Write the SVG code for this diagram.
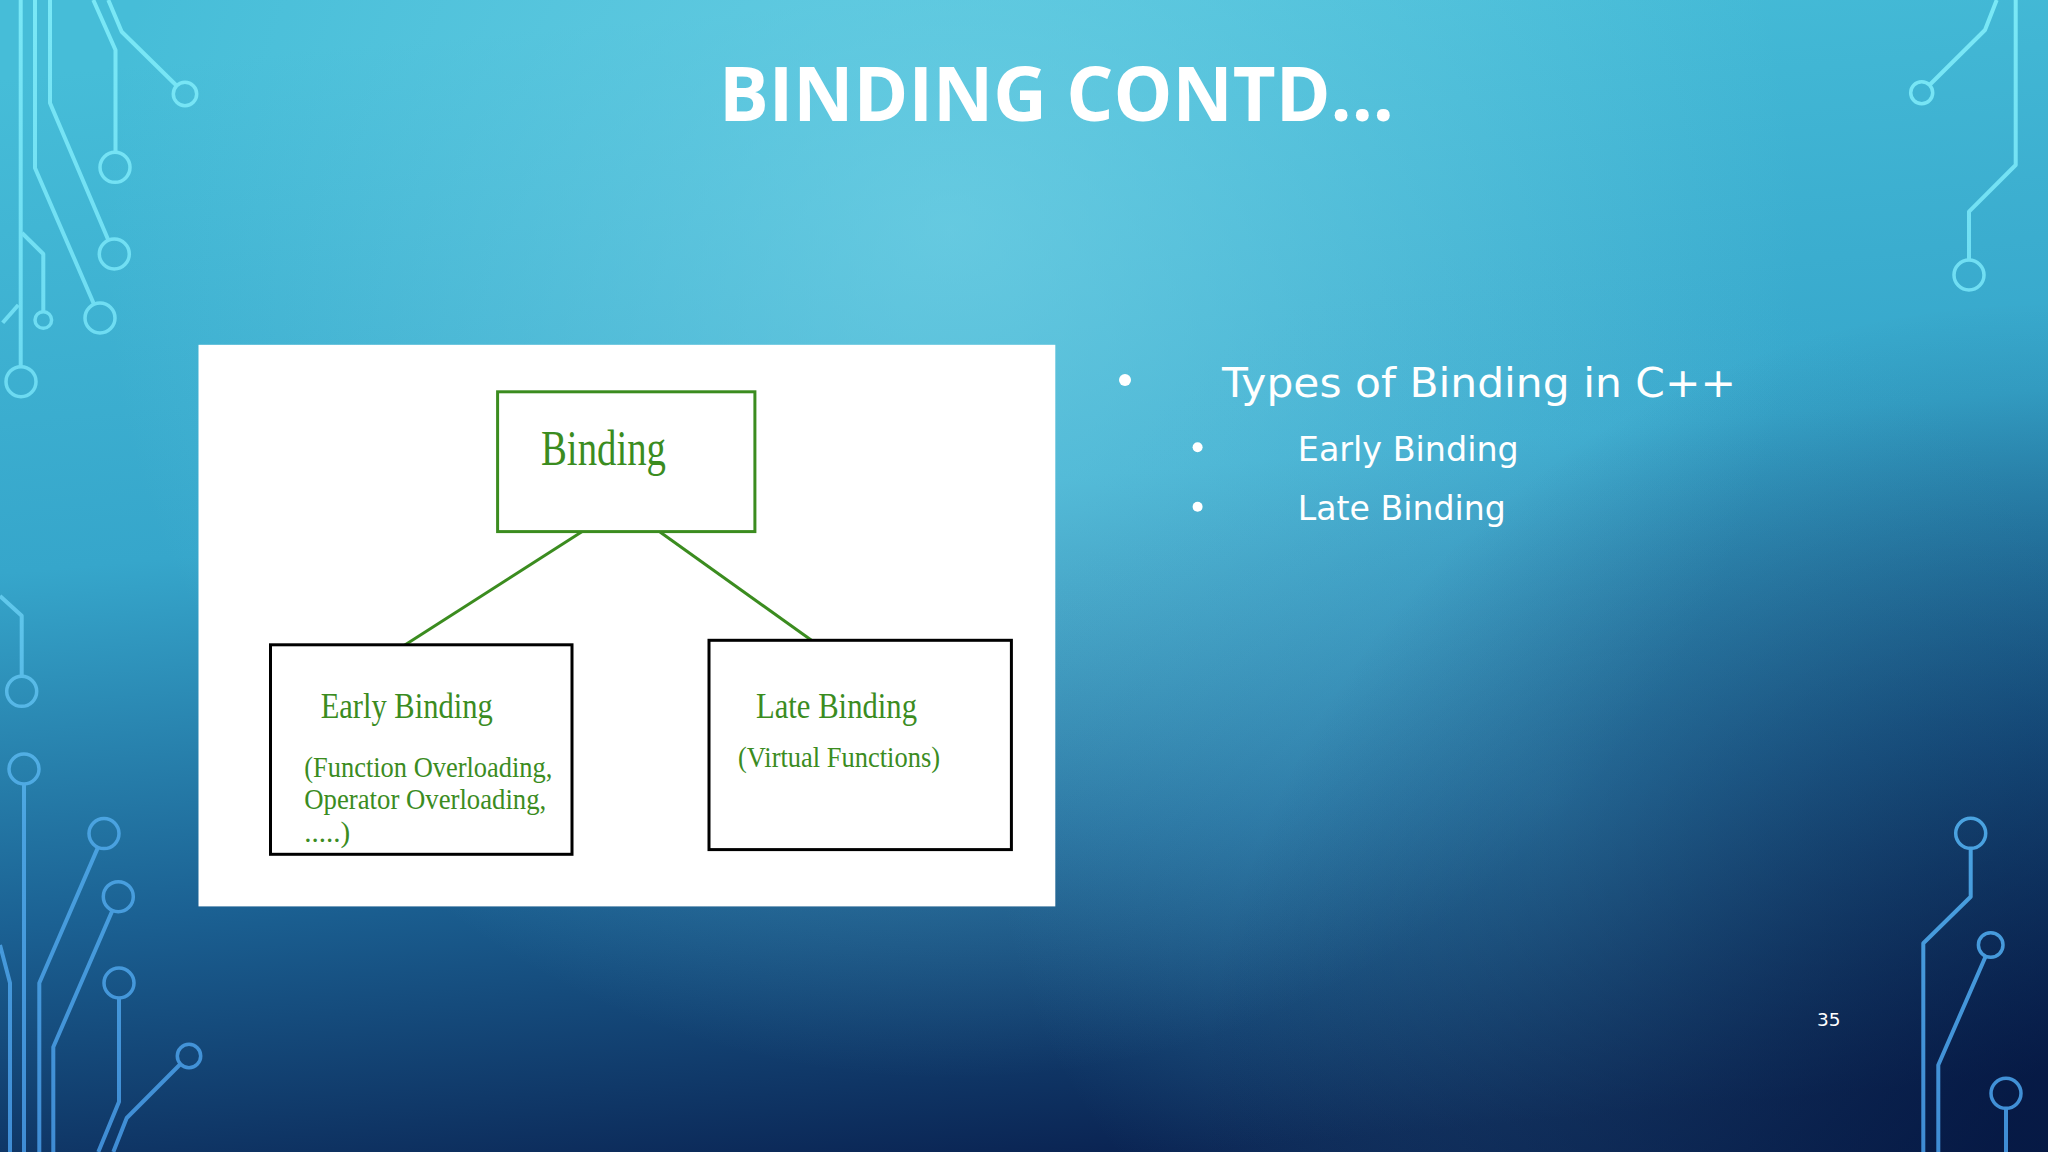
<svg xmlns="http://www.w3.org/2000/svg" width="2048" height="1152" viewBox="0 0 2048 1152">
  <defs>
    <linearGradient id="bg" x1="0.42" y1="0" x2="0.58" y2="1">
      <stop offset="0" stop-color="#46bdd8"/>
      <stop offset="0.42" stop-color="#36a6cb"/>
      <stop offset="0.72" stop-color="#1b6193"/>
      <stop offset="1" stop-color="#0a2352"/>
    </linearGradient>
    <radialGradient id="hl" cx="950" cy="230" r="850" gradientUnits="userSpaceOnUse">
      <stop offset="0" stop-color="#7fd9ea" stop-opacity="0.6"/>
      <stop offset="1" stop-color="#7fd9ea" stop-opacity="0"/>
    </radialGradient>
    <radialGradient id="hl2" cx="1550" cy="800" r="560" gradientUnits="userSpaceOnUse">
      <stop offset="0" stop-color="#4fb0d4" stop-opacity="0.35"/>
      <stop offset="1" stop-color="#4fb0d4" stop-opacity="0"/>
    </radialGradient>
    <radialGradient id="dk" cx="2048" cy="1152" r="850" gradientUnits="userSpaceOnUse">
      <stop offset="0" stop-color="#051640" stop-opacity="0.75"/>
      <stop offset="1" stop-color="#051640" stop-opacity="0"/>
    </radialGradient>
    <linearGradient id="wire" x1="0" y1="0" x2="0" y2="1152" gradientUnits="userSpaceOnUse">
      <stop offset="0" stop-color="#7ae8f6"/>
      <stop offset="0.45" stop-color="#68d6f0"/>
      <stop offset="0.72" stop-color="#4aa2e0"/>
      <stop offset="1" stop-color="#3f8cd4"/>
    </linearGradient>
    <style>
      .w { fill: none; stroke: url(#wire); stroke-width: 4; stroke-linejoin: round; }
      .c { fill: none; stroke: url(#wire); stroke-width: 3.5; }
      .gbox { fill: #ffffff; stroke: #3b8c1f; stroke-width: 3; }
      .kbox { fill: #ffffff; stroke: #000000; stroke-width: 3; }
      .edge { stroke: #3b8c1f; stroke-width: 3; fill: none; }
      .gt { font-family: "Liberation Serif", "DejaVu Serif", serif; fill: #3b8c1f; }
      .wt { font-family: "DejaVu Sans", "Liberation Sans", sans-serif; fill: #ffffff; }
    </style>
  </defs>

  <!-- background -->
  <rect x="0" y="0" width="2048" height="1152" fill="url(#bg)"/>
  <rect x="0" y="0" width="2048" height="1152" fill="url(#hl)"/>
  <rect x="0" y="0" width="2048" height="1152" fill="url(#hl2)"/>
  <rect x="0" y="0" width="2048" height="1152" fill="url(#dk)"/>

  <!-- circuit decoration -->
  <g id="circuits">
    <path class="w" d="M20.7,0 V366.7"/>
    <circle class="c" cx="21" cy="381.7" r="15"/>
    <path class="w" d="M22,233 L43.3,254 V311.7"/>
    <circle class="c" cx="43.3" cy="320" r="8.3"/>
    <path class="w" d="M18.3,305 L2.7,322.7"/>
    <path class="w" d="M35,0 V168 L94,304.2"/>
    <circle class="c" cx="100" cy="318" r="15"/>
    <path class="w" d="M50,0 V103 L108.4,240.2"/>
    <circle class="c" cx="114.3" cy="254" r="15"/>
    <path class="w" d="M93.3,0 L115.5,50 V152.3"/>
    <circle class="c" cx="115" cy="167.3" r="15"/>
    <path class="w" d="M108.3,0 L121.7,31.7 L176.7,85.8"/>
    <circle class="c" cx="185" cy="94" r="11.7"/>

    <path class="w" d="M0,596 L21.7,615.8 V676.3"/>
    <circle class="c" cx="21.7" cy="691.3" r="15"/>
    <circle class="c" cx="24" cy="769" r="15"/>
    <path class="w" d="M24,784 V1152"/>
    <path class="w" d="M0,945 L10,983 V1152"/>
    <circle class="c" cx="104" cy="833.6" r="15"/>
    <path class="w" d="M98,847.4 L39.3,983 V1152"/>
    <circle class="c" cx="118.3" cy="896.7" r="15"/>
    <path class="w" d="M112.4,910.5 L53.3,1047 V1152"/>
    <circle class="c" cx="119" cy="983" r="15"/>
    <path class="w" d="M119,998 V1101.7 L98.3,1152"/>
    <circle class="c" cx="189" cy="1056" r="11.7"/>
    <path class="w" d="M180.5,1064 L126.7,1118 L113.3,1152"/>

    <path class="w" d="M1996.7,0 L1985,30 L1930,84.5"/>
    <circle class="c" cx="1921.7" cy="92.7" r="11"/>
    <path class="w" d="M2015.7,0 V165 L1969,211.7 V260"/>
    <circle class="c" cx="1969" cy="275" r="15"/>

    <circle class="c" cx="1970.7" cy="833.3" r="15"/>
    <path class="w" d="M1970.7,848.3 V896.7 L1923.3,943.3 V1152"/>
    <circle class="c" cx="1990.7" cy="945" r="12.3"/>
    <path class="w" d="M1985.7,956.2 L1938.3,1065 V1152"/>
    <circle class="c" cx="2006" cy="1093.3" r="15"/>
    <path class="w" d="M2006,1108.3 V1152"/>
  </g>

  <!-- title -->
  <text x="719" y="121" font-family="'Open Sans', 'Liberation Sans', sans-serif" font-weight="700" font-size="75" fill="#ffffff" textLength="675" lengthAdjust="spacingAndGlyphs">BINDING CONTD...</text>

  <!-- picture panel -->
  <rect x="198.5" y="344.8" width="856.8" height="561.6" fill="#ffffff"/>

  <g id="connectors">
    <path class="edge" d="M583,531 L404.5,645.3"/>
    <path class="edge" d="M660,532 L812.5,641"/>
  </g>

  <g id="node-binding">
    <rect class="gbox" x="497.6" y="391.8" width="257.3" height="139.8"/>
    <text class="gt" x="541" y="465" font-size="50" textLength="125" lengthAdjust="spacingAndGlyphs">Binding</text>
  </g>

  <g id="node-early">
    <rect class="kbox" x="270.5" y="644.8" width="301.5" height="209.5"/>
    <text class="gt" x="320.7" y="718.3" font-size="36" textLength="172" lengthAdjust="spacingAndGlyphs">Early  Binding</text>
    <text class="gt" x="304.3" y="776.7" font-size="30" textLength="248" lengthAdjust="spacingAndGlyphs">(Function Overloading,</text>
    <text class="gt" x="304.3" y="809.3" font-size="30" textLength="242" lengthAdjust="spacingAndGlyphs">Operator Overloading,</text>
    <text class="gt" x="304.3" y="842.3" font-size="30" textLength="46" lengthAdjust="spacingAndGlyphs">.....)</text>
  </g>

  <g id="node-late">
    <rect class="kbox" x="709" y="640.3" width="302.4" height="209.3"/>
    <text class="gt" x="756" y="718" font-size="36" textLength="161" lengthAdjust="spacingAndGlyphs">Late Binding</text>
    <text class="gt" x="738" y="767" font-size="30" textLength="202" lengthAdjust="spacingAndGlyphs">(Virtual Functions)</text>
  </g>

  <!-- bullet list -->
  <g id="bullets">
    <circle cx="1125" cy="380" r="6" fill="#ffffff"/>
    <text class="wt" x="1222" y="397.3" font-size="41" textLength="514" lengthAdjust="spacingAndGlyphs">Types of Binding in C++</text>
    <circle cx="1197.6" cy="447.3" r="5" fill="#ffffff"/>
    <text class="wt" x="1297.8" y="460.7" font-size="33" textLength="221" lengthAdjust="spacingAndGlyphs">Early Binding</text>
    <circle cx="1197.6" cy="506.7" r="5" fill="#ffffff"/>
    <text class="wt" x="1297.8" y="520" font-size="33" textLength="208" lengthAdjust="spacingAndGlyphs">Late Binding</text>
  </g>

  <text class="wt" x="1817" y="1026" font-size="18.5">35</text>
</svg>
